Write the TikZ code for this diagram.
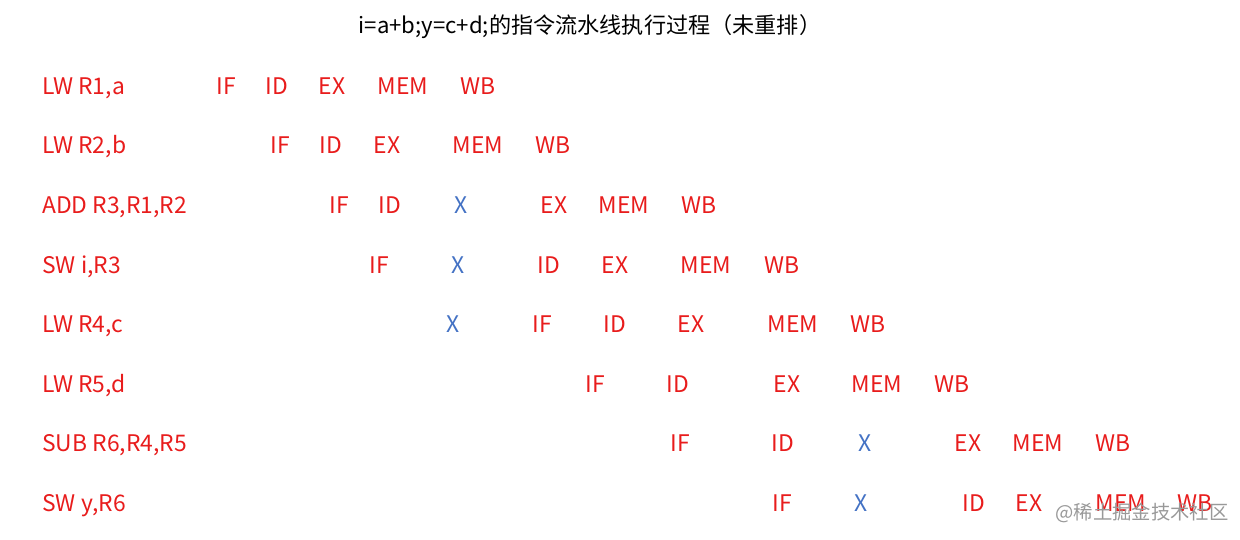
\documentclass[tikz,border=0pt]{standalone}
\usepackage{fontspec}
\setmainfont{Noto Sans CJK SC}
\usepackage{xcolor}
\definecolor{stagered}{RGB}{232,28,28}
\definecolor{stallblue}{RGB}{68,114,196}
\tikzset{
    instr/.style={anchor=mid west, text=stagered, font=\fontsize{13}{16}\selectfont, inner sep=0pt},
    stage/.style={anchor=mid, text=stagered, font=\fontsize{13}{16}\selectfont, inner sep=0pt},
    stall/.style={anchor=mid, text=stallblue, font=\fontsize{13}{16}\selectfont, inner sep=0pt},
    title/.style={anchor=mid, font=\fontsize{12.6}{15}\selectfont, inner sep=0pt}
}
\begin{document}
\begin{tikzpicture}[x=0.02cm, y=-0.02cm, every node/.append style={yshift=-0.08cm}]
    \useasboundingbox (0,0) rectangle (1240,540);
    \node (title) [title] at (590,25) {i=a+b;y=c+d;的指令流水线执行过程（未重排）};

    % instructions
    \node (i1) [instr] at (42,86) {LW R1,a};
    \node (i2) [instr] at (42,145) {LW R2,b};
    \node (i3) [instr] at (42,205) {ADD R3,R1,R2};
    \node (i4) [instr] at (42,265) {SW i,R3};
    \node (i5) [instr] at (42,324) {LW R4,c};
    \node (i6) [instr] at (42,384) {LW R5,d};
    \node (i7) [instr] at (42,443) {SUB R6,R4,R5};
    \node (i8) [instr] at (42,503) {SW y,R6};

    % pipeline stages
    \foreach \x/\t [count=\i] in {226/IF,277/ID,332/EX,403/MEM,478/WB}
        \node (a\i) [stage] at (\x,86) {\t};
    \foreach \x/\t [count=\i] in {280/IF,331/ID,387/EX,478/MEM,553/WB}
        \node (b\i) [stage] at (\x,145) {\t};
    \foreach \x/\t [count=\i] in {339/IF,390/ID,554/EX,624/MEM,699/WB}
        \node (c\i) [stage] at (\x,205) {\t};
    \foreach \x/\t [count=\i] in {379/IF,549/ID,615/EX,706/MEM,782/WB}
        \node (d\i) [stage] at (\x,265) {\t};
    \foreach \x/\t [count=\i] in {542/IF,615/ID,691/EX,793/MEM,868/WB}
        \node (e\i) [stage] at (\x,324) {\t};
    \foreach \x/\t [count=\i] in {595/IF,678/ID,787/EX,877/MEM,952/WB}
        \node (f\i) [stage] at (\x,384) {\t};
    \foreach \x/\t [count=\i] in {680/IF,783/ID,968/EX,1038/MEM,1113/WB}
        \node (g\i) [stage] at (\x,443) {\t};
    \foreach \x/\t [count=\i] in {782/IF,974/ID,1029/EX,1121/MEM,1195/WB}
        \node (h\i) [stage] at (\x,503) {\t};

    % stalls
    \node (cx) [stall] at (461,205) {X};
    \node (dx) [stall] at (458,265) {X};
    \node (ex) [stall] at (453,324) {X};
    \node (gx) [stall] at (865,443) {X};
    \node (hx) [stall] at (861,503) {X};

    \node (wm) [text=black!40, font=\fontsize{11}{13}\selectfont, inner sep=0pt] at (1142,509) {@稀土掘金技术社区};
\end{tikzpicture}
\end{document}
